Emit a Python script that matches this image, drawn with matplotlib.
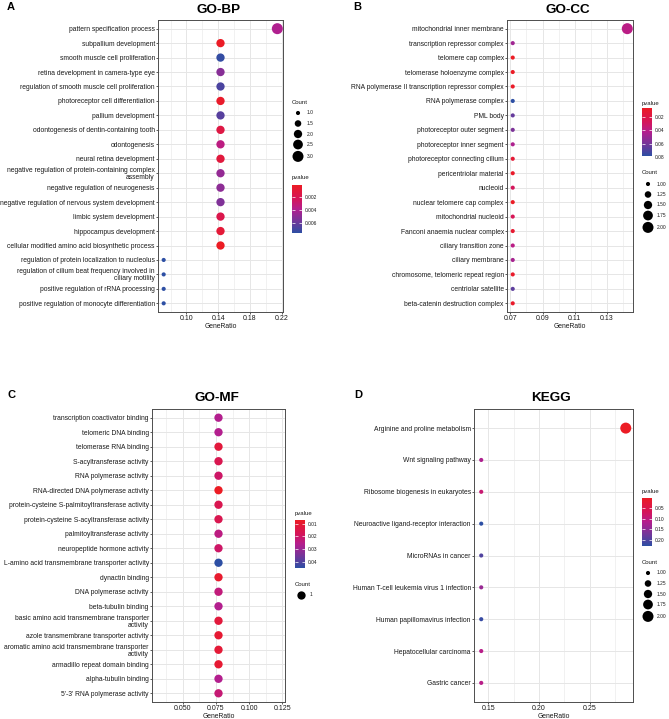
import numpy as np
import matplotlib
matplotlib.use('Agg')
import matplotlib.pyplot as plt
from matplotlib.colors import LinearSegmentedColormap, Normalize

plt.rcParams['font.family'] = ['Liberation Sans', 'DejaVu Sans']

W, H, DPI = 669, 719, 100

# ---------------- data ----------------
bp_terms = [
    "pattern specification process",
    "subpallium development",
    "smooth muscle cell proliferation",
    "retina development in camera-type eye",
    "regulation of smooth muscle cell proliferation",
    "photoreceptor cell differentiation",
    "pallium development",
    "odontogenesis of dentin-containing tooth",
    "odontogenesis",
    "neural retina development",
    "negative regulation of protein-containing complex\nassembly",
    "negative regulation of neurogenesis",
    "negative regulation of nervous system development",
    "limbic system development",
    "hippocampus development",
    "cellular modified amino acid biosynthetic process",
    "regulation of protein localization to nucleolus",
    "regulation of cilium beat frequency involved in\nciliary motility",
    "positive regulation of rRNA processing",
    "positive regulation of monocyte differentiation",
]
bp_count = [3, 2, 2, 2, 2, 2, 2, 2, 2, 2, 2, 2, 2, 2, 2, 2, 1, 1, 1, 1]
bp_pvalue = [0.0040, 0.0003, 0.0074, 0.0052, 0.0068, 0.0005, 0.0065, 0.0015,
             0.0035, 0.0012, 0.0048, 0.0050, 0.0054, 0.0018, 0.0010, 0.0002,
             0.0076, 0.0076, 0.0076, 0.0076]
bp_total = 14

cc_terms = [
    "mitochondrial inner membrane",
    "transcription repressor complex",
    "telomere cap complex",
    "telomerase holoenzyme complex",
    "RNA polymerase II transcription repressor complex",
    "RNA polymerase complex",
    "PML body",
    "photoreceptor outer segment",
    "photoreceptor inner segment",
    "photoreceptor connecting cilium",
    "pericentriolar material",
    "nucleoid",
    "nuclear telomere cap complex",
    "mitochondrial nucleoid",
    "Fanconi anaemia nuclear complex",
    "ciliary transition zone",
    "ciliary membrane",
    "chromosome, telomeric repeat region",
    "centriolar satellite",
    "beta-catenin destruction complex",
]
cc_count = [2] + [1] * 19
cc_pvalue = [0.040, 0.048, 0.007, 0.008, 0.009, 0.078, 0.064, 0.058, 0.044,
             0.014, 0.010, 0.028, 0.008, 0.026, 0.012, 0.040, 0.046, 0.010,
             0.066, 0.010]
cc_total = 14

mf_terms = [
    "transcription coactivator binding",
    "telomeric DNA binding",
    "telomerase RNA binding",
    "S-acyltransferase activity",
    "RNA polymerase activity",
    "RNA-directed DNA polymerase activity",
    "protein-cysteine S-palmitoyltransferase activity",
    "protein-cysteine S-acyltransferase activity",
    "palmitoyltransferase activity",
    "neuropeptide hormone activity",
    "L-amino acid transmembrane transporter activity",
    "dynactin binding",
    "DNA polymerase activity",
    "beta-tubulin binding",
    "basic amino acid transmembrane transporter\nactivity",
    "azole transmembrane transporter activity",
    "aromatic amino acid transmembrane transporter\nactivity",
    "armadillo repeat domain binding",
    "alpha-tubulin binding",
    "5'-3' RNA polymerase activity",
]
mf_count = [1] * 20
mf_pvalue = [0.026, 0.026, 0.012, 0.016, 0.020, 0.007, 0.016, 0.016, 0.024,
             0.020, 0.045, 0.009, 0.023, 0.026, 0.012, 0.010, 0.011, 0.010,
             0.026, 0.022]
mf_total = 13

kegg_terms = [
    "Arginine and proline metabolism",
    "Wnt signaling pathway",
    "Ribosome biogenesis in eukaryotes",
    "Neuroactive ligand-receptor interaction",
    "MicroRNAs in cancer",
    "Human T-cell leukemia virus 1 infection",
    "Human papillomavirus infection",
    "Hepatocellular carcinoma",
    "Gastric cancer",
]
kegg_count = [2, 1, 1, 1, 1, 1, 1, 1, 1]
kegg_pvalue = [0.003, 0.12, 0.09, 0.228, 0.20, 0.14, 0.22, 0.11, 0.11]
kegg_total = 7

# ---------------- style ----------------
cmap = LinearSegmentedColormap.from_list(
    "rb", [(0.0, "#EC1C24"), (0.3, "#D4155C"), (0.5, "#B41F8E"),
           (0.75, "#74369A"), (1.0, "#2D4FA4")])
GRID = "#E6E6E6"
BORDER = "#4D4D4D"
TXT = "#1A1A1A"
YLAB_FS = 4.85

fig = plt.figure(figsize=(W / DPI, H / DPI), dpi=DPI)
overlay = fig.add_axes([0, 0, 1, 1], zorder=-1)
overlay.set_xlim(0, W)
overlay.set_ylim(H, 0)
overlay.axis('off')


def px_axes(left, top, right, bottom, **kw):
    return fig.add_axes([left / W, 1 - bottom / H, (right - left) / W,
                         (bottom - top) / H], **kw)


def gg_size(c, cmin, cmax):
    t = 0.5 if cmax == cmin else (c - cmin) / (cmax - cmin)
    return np.sqrt(3 ** 2 + t * (8 ** 2 - 3 ** 2))


def diam_px(c, cmin, cmax):
    return gg_size(c, cmin, cmax) * 1.375


def area_pt(c, cmin, cmax):
    return (diam_px(c, cmin, cmax) * 72 / DPI) ** 2


def draw_panel(box, terms, counts, pvals, total, xmajor, xminor, xlabels,
               title, title_y, label, label_xy):
    ax = px_axes(*box)
    counts = np.array(counts, float)
    pvals = np.array(pvals, float)
    ratio = counts / total
    n = len(terms)
    y = np.arange(n)[::-1]
    norm = Normalize(pvals.min(), pvals.max())
    cmin, cmax = counts.min(), counts.max()
    sizes = [area_pt(c, cmin, cmax) for c in counts]
    ax.scatter(ratio, y, s=sizes, c=pvals, cmap=cmap, norm=norm,
               linewidths=0, zorder=3)
    lo, hi = ratio.min(), ratio.max()
    if hi == lo:
        ax.set_xlim(lo - 0.05, hi + 0.05)
    else:
        e = 0.05 * (hi - lo)
        ax.set_xlim(lo - e, hi + e)
    ax.set_ylim(-0.6, n - 1 + 0.6)
    ax.set_yticks(y)
    ax.set_yticklabels(terms, fontsize=YLAB_FS, color=TXT, linespacing=0.95)
    for t in ax.get_yticklabels():
        t.set_horizontalalignment('right')
        t.set_multialignment('right')
    ax.set_xticks(xmajor)
    ax.set_xticklabels(xlabels, fontsize=5.0, color=TXT)
    ax.set_xticks(xminor, minor=True)
    ax.grid(True, which='major', color=GRID, lw=0.7, zorder=0)
    ax.grid(True, which='minor', axis='x', color=GRID, lw=0.4, zorder=0)
    ax.set_axisbelow(True)
    ax.tick_params(axis='both', which='major', length=1.5, width=0.5,
                   color=TXT, pad=0.8)
    ax.tick_params(axis='x', which='minor', length=0)
    for s in ax.spines.values():
        s.set_color(BORDER)
        s.set_linewidth(0.7)
    ax.set_xlabel("GeneRatio", fontsize=4.9, color=TXT, labelpad=0.6)
    cx = (box[0] + box[2]) / 2 - 2
    overlay.text(cx, title_y, title, fontsize=9.7, fontweight='bold',
                 ha='center', va='center', color='black')
    overlay.text(label_xy[0], label_xy[1], label, fontsize=8,
                 fontweight='bold', ha='left', va='center', color='black')
    return norm, cmin, cmax


def draw_colorbar(norm, x, ytitle, ytop, ybot, ticks, ticklabels):
    overlay.text(x, ytitle, "pvalue", fontsize=4.3, ha='left',
                 va='center', color=TXT)
    cax = px_axes(x, ytop, x + 10, ybot)
    grad = np.linspace(norm.vmin, norm.vmax, 256)[:, None]
    cax.imshow(grad, aspect='auto', cmap=cmap, norm=norm, origin='upper',
               extent=(0, 1, norm.vmax, norm.vmin), interpolation='bilinear')
    cax.set_xlim(0, 1)
    cax.set_ylim(norm.vmax, norm.vmin)
    cax.set_xticks([])
    cax.set_yticks(ticks)
    cax.set_yticklabels(ticklabels)
    for s in cax.spines.values():
        s.set_visible(False)
    cax.tick_params(axis='y', direction='in', color='white', length=2,
                    width=0.5, left=True, right=True, labelleft=False,
                    labelright=True, labelsize=3.5, pad=2.2,
                    labelcolor=TXT)


def draw_count_legend(x, ytitle, breaks, blabels, cmin, cmax):
    overlay.text(x, ytitle, "Count", fontsize=4.3, ha='left',
                 va='center', color=TXT)
    d = [diam_px(b, cmin, cmax) for b in breaks]
    ys = [ytitle + 11]
    for i in range(1, len(breaks)):
        ys.append(ys[-1] + max(10.5, (d[i - 1] + d[i]) / 2 + 1.5))
    overlay.scatter([x + 6] * len(breaks), ys,
                    s=[area_pt(b, cmin, cmax) for b in breaks],
                    color='black', linewidths=0)
    for yy, lab in zip(ys, blabels):
        overlay.text(x + 14.5, yy, lab, fontsize=3.5, ha='left',
                     va='center', color=TXT)


# Panel A
norm, cmin, cmax = draw_panel((158, 20, 283, 312), bp_terms, bp_count,
                              bp_pvalue, bp_total,
                              [0.10, 0.14, 0.18, 0.22],
                              [0.08, 0.12, 0.16, 0.20],
                              ["0.10", "0.14", "0.18", "0.22"],
                              "GO-BP", 10, "A", (7, 7))
draw_count_legend(292, 102, [1.0, 1.5, 2.0, 2.5, 3.0],
                  ["1.0", "1.5", "2.0", "2.5", "3.0"], cmin, cmax)
draw_colorbar(norm, 292, 178, 185, 233, [0.002, 0.004, 0.006],
              ["0.002", "0.004", "0.006"])

# Panel B
norm, cmin, cmax = draw_panel((507, 20, 633, 312), cc_terms, cc_count,
                              cc_pvalue, cc_total,
                              [0.07, 0.09, 0.11, 0.13],
                              [0.08, 0.10, 0.12, 0.14],
                              ["0.07", "0.09", "0.11", "0.13"],
                              "GO-CC", 10, "B", (353, 7))
draw_colorbar(norm, 642, 103, 108, 157, [0.02, 0.04, 0.06, 0.08],
              ["0.02", "0.04", "0.06", "0.08"])
draw_count_legend(642, 173, [1.0, 1.25, 1.5, 1.75, 2.0],
                  ["1.00", "1.25", "1.50", "1.75", "2.00"], cmin, cmax)

# Panel C
norm, cmin, cmax = draw_panel((152, 409, 285, 702), mf_terms, mf_count,
                              mf_pvalue, mf_total,
                              [0.050, 0.075, 0.100, 0.125],
                              [0.0375, 0.0625, 0.0875, 0.1125],
                              ["0.050", "0.075", "0.100", "0.125"],
                              "GO-MF", 398, "C", (7, 395))
draw_colorbar(norm, 295, 514, 520, 568, [0.01, 0.02, 0.03, 0.04],
              ["0.01", "0.02", "0.03", "0.04"])
draw_count_legend(295, 584, [1], ["1"], cmin, cmax)

# Panel D
norm, cmin, cmax = draw_panel((474, 409, 633, 702), kegg_terms, kegg_count,
                              kegg_pvalue, kegg_total,
                              [0.15, 0.20, 0.25],
                              [0.175, 0.225, 0.275],
                              ["0.15", "0.20", "0.25"],
                              "KEGG", 398, "D", (354, 395))
draw_colorbar(norm, 642, 492, 498, 546, [0.05, 0.10, 0.15, 0.20],
              ["0.05", "0.10", "0.15", "0.20"])
draw_count_legend(642, 562, [1.0, 1.25, 1.5, 1.75, 2.0],
                  ["1.00", "1.25", "1.50", "1.75", "2.00"], cmin, cmax)

fig.savefig("out.png", dpi=DPI)
